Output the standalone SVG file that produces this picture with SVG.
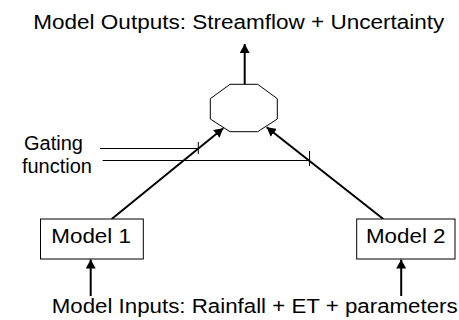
<svg xmlns="http://www.w3.org/2000/svg" width="459" height="320" viewBox="0 0 459 320">
<style>
text{font-family:"Liberation Sans",Arial,sans-serif;font-size:20px;fill:#000}
.box{fill:#fff;stroke:#000;stroke-width:1}
.arr{stroke:#000;stroke-width:2;fill:none;marker-end:url(#ah)}
.thin{stroke:#000;stroke-width:1;fill:none}
</style>
<defs>
<marker id="ah" markerUnits="userSpaceOnUse" markerWidth="10" markerHeight="10" refX="9" refY="5" orient="auto" viewBox="0 0 10 10">
<path d="M0,0 L9,5 L0,10 z" fill="#000"/>
</marker>
</defs>
<rect width="459" height="320" fill="#fff"/>
<g id="connectors">
<line class="arr" x1="244.7" y1="84.3" x2="244.7" y2="44"/>
<line class="arr" x1="111.7" y1="219" x2="223.3" y2="128.3"/>
<line class="arr" x1="383.3" y1="219" x2="266.7" y2="127.3"/>
<line class="arr" x1="90.7" y1="296" x2="90.7" y2="259.5"/>
<line class="arr" x1="401.2" y1="296" x2="401.2" y2="259.5"/>
</g>
<g id="gating">
<line class="thin" x1="100" y1="148.5" x2="198.3" y2="148.5"/>
<line class="thin" x1="198.3" y1="142" x2="198.3" y2="154"/>
<line class="thin" x1="102.7" y1="160.5" x2="309.5" y2="160.5"/>
<line class="thin" x1="309.5" y1="151" x2="309.5" y2="166"/>
<text x="83" y="150" text-anchor="end">Gating</text>
<text x="92" y="173" text-anchor="end">function</text>
</g>
<g id="combiner">
<polygon class="box" points="230,84.3 257.7,84.3 277.3,98.7 277.3,119 257.7,131.7 230,131.7 210.3,119 210.3,98.7"/>
</g>
<g id="model1">
<rect class="box" x="40.5" y="219" width="102.8" height="40"/>
<text x="51.3" y="243.3" textLength="79.7" lengthAdjust="spacingAndGlyphs">Model 1</text>
</g>
<g id="model2">
<rect class="box" x="356.7" y="219" width="98.3" height="40"/>
<text x="366" y="243.3" textLength="79.5" lengthAdjust="spacingAndGlyphs">Model 2</text>
</g>
<g id="outputs">
<text x="33.3" y="29" textLength="411" lengthAdjust="spacingAndGlyphs">Model Outputs: Streamflow + Uncertainty</text>
</g>
<g id="inputs">
<text x="51.7" y="313" textLength="406" lengthAdjust="spacingAndGlyphs">Model Inputs: Rainfall + ET + parameters</text>
</g>
</svg>
